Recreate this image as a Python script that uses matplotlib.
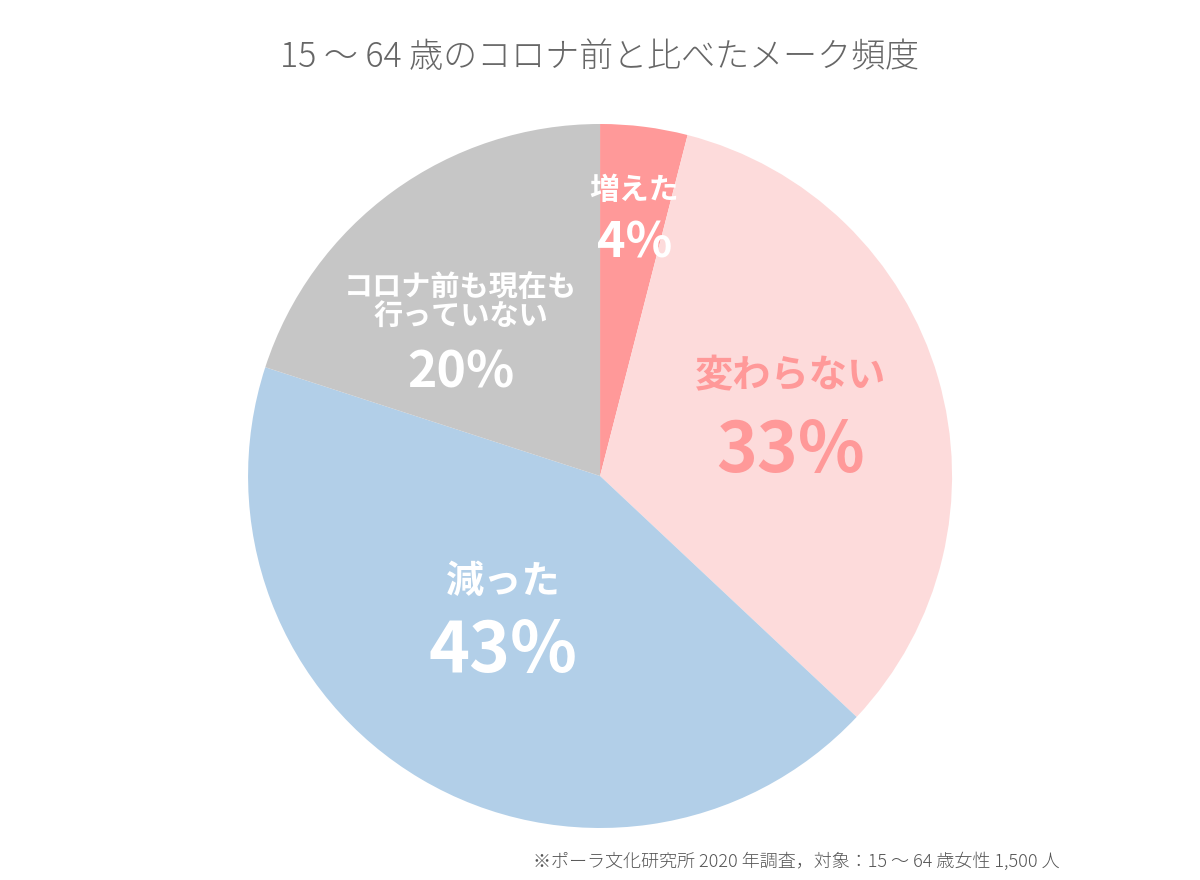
import matplotlib.pyplot as plt
import numpy as np

plt.rcParams['font.family'] = ['Noto Sans CJK JP', 'DejaVu Sans']

labels = ['増えた', '変わらない', '減った', 'コロナ前も現在も\n行っていない']
values = [4, 33, 43, 20]
colors = ['#FF9999', '#FDDBDB', '#B2CFE8', '#C6C6C6']
text_colors = ['white', '#FF9999', 'white', 'white']
# label placement: (radius, angle in degrees), label size, percent size
label_pos = [(0.75, 82.5), (0.57, 18.5), (0.48, -125.0), (0.58, 133.0)]
label_size = [21.5, 27.5, 27.5, 21]
pct_size = [35, 50, 50, 36]
label_dy = [0.069, 0.105, 0.094, 0.072]
pct_dy = [-0.081, -0.111, -0.106, -0.133]

fig = plt.figure(figsize=(12, 8.8), dpi=100)
ax = fig.add_axes([0.2067, 0.0591, 0.5867, 0.8])
ax.pie(values, colors=colors, startangle=90, counterclock=False,
       wedgeprops=dict(linewidth=0))
ax.set_xlim(-1, 1)
ax.set_ylim(-1, 1)
ax.set_aspect('equal')

for lab, v, tc, (r, a), ls, ps, ldy, pdy in zip(labels, values, text_colors, label_pos,
                                                 label_size, pct_size, label_dy, pct_dy):
    x = r * np.cos(np.radians(a))
    y = r * np.sin(np.radians(a))
    ax.text(x, y + ldy, lab, ha='center', va='center', color=tc,
            fontsize=ls, fontweight='bold', linespacing=0.95)
    ax.text(x, y + pdy, f'{v}%', ha='center', va='center',
            color=tc, fontsize=ps, fontweight='bold')

fig.text(0.5, 0.935, '15 〜 64 歳のコロナ前と比べたメーク頻度', ha='center', va='center',
         fontsize=24.5, color='#666666', fontweight='light')
fig.text(0.883, 0.021, '※ポーラ文化研究所 2020 年調査，対象：15 〜 64 歳女性 1,500 人',
         ha='right', va='center', fontsize=13, color='#555555', fontweight='light')

fig.savefig('out.png', dpi=100, facecolor='white')
